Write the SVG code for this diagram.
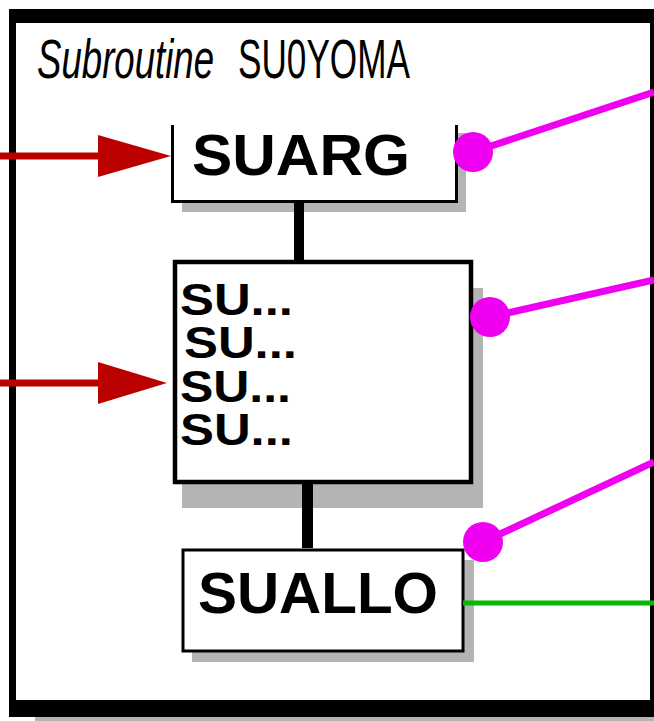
<svg xmlns="http://www.w3.org/2000/svg" width="654" height="721" viewBox="0 0 654 721">
  <style>
    .shadow { fill: #b4b4b4; }
    .box { fill: #ffffff; stroke: #000000; }
    .label { font-family: "Liberation Sans", Arial, sans-serif; font-weight: bold; fill: #000000; }
    .title { font-family: "Liberation Sans", Arial, sans-serif; fill: #000000; font-size: 56px; }
    .link { fill: #000000; }
    .call { stroke: #bb0000; stroke-width: 7; fill: none; }
    .head { fill: #bb0000; }
    .ext { stroke: #f000f0; stroke-width: 7; fill: none; }
    .dot { fill: #f000f0; }
    .green { stroke: #00bb00; stroke-width: 5; fill: none; }
  </style>

  <!-- page background -->
  <rect x="0" y="0" width="654" height="721" fill="#ffffff"/>

  <!-- subroutine frame -->
  <g id="frame">
    <rect class="shadow" x="35" y="716" width="619" height="5"/>
    <rect x="9" y="9" width="645" height="708" fill="#000000"/>
    <rect x="16" y="23" width="634" height="677" fill="#ffffff"/>
    <!-- condensed title lettering -->
    <text class="title" transform="translate(37 78) scale(0.654 1)" font-style="italic">Subroutine</text>
    <text class="title" transform="translate(238 78) scale(0.628 1)">SU0YOMA</text>
  </g>

  <!-- SUARG -->
  <g id="node-suarg">
    <rect class="shadow" x="182" y="133" width="284" height="79"/>
    <rect x="171" y="125" width="287" height="78" fill="#ffffff"/>
    <path d="M172.5 125 V201.5 H456.5 V125" fill="none" stroke="#000000" stroke-width="3"/>
    <text class="label" x="192" y="175" font-size="58" textLength="218" lengthAdjust="spacingAndGlyphs">SUARG</text>
  </g>

  <!-- grouped SU... calls -->
  <g id="node-su-list">
    <rect class="shadow" x="182" y="288" width="301" height="220"/>
    <rect class="box" x="175" y="262" width="296" height="220" stroke-width="4.5"/>
    <text class="label" x="180" y="315" font-size="45" textLength="113" lengthAdjust="spacingAndGlyphs">SU...</text>
    <text class="label" x="184" y="358" font-size="45" textLength="113" lengthAdjust="spacingAndGlyphs">SU...</text>
    <text class="label" x="180" y="402" font-size="45" textLength="111" lengthAdjust="spacingAndGlyphs">SU...</text>
    <text class="label" x="180" y="445" font-size="45" textLength="113" lengthAdjust="spacingAndGlyphs">SU...</text>
  </g>

  <!-- SUALLO -->
  <g id="node-suallo">
    <rect class="shadow" x="192" y="560" width="282" height="102"/>
    <rect class="box" x="183" y="550" width="280" height="101" stroke-width="3"/>
    <text class="label" x="198" y="613" font-size="58" textLength="240" lengthAdjust="spacingAndGlyphs">SUALLO</text>
  </g>

  <!-- connectors -->
  <g id="connectors">
    <!-- tree links -->
    <rect class="link" x="294" y="203" width="10" height="58"/>
    <rect class="link" x="302" y="484" width="11" height="64"/>

    <!-- incoming calls -->
    <line class="call" x1="0" y1="156" x2="110" y2="156"/>
    <polygon class="head" points="98,135 171,156 98,177"/>
    <line class="call" x1="0" y1="383" x2="110" y2="383"/>
    <polygon class="head" points="98,362 167,383 98,404"/>

    <!-- external links -->
    <line class="ext" x1="473" y1="152" x2="654" y2="92"/>
    <circle class="dot" cx="473" cy="152" r="20"/>
    <line class="ext" x1="490" y1="317" x2="654" y2="280"/>
    <circle class="dot" cx="490" cy="317" r="20"/>
    <line class="ext" x1="483" y1="542" x2="654" y2="462"/>
    <circle class="dot" cx="483" cy="542" r="20"/>

    <line class="green" x1="463" y1="603" x2="654" y2="603"/>
  </g>
</svg>
